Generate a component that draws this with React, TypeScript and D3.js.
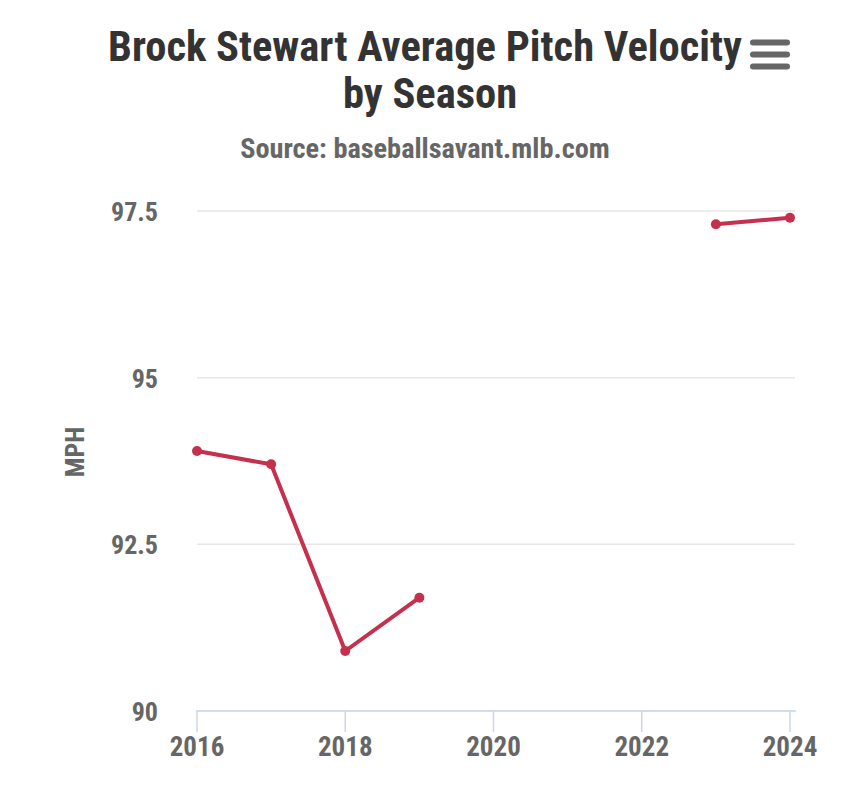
import React, { useEffect } from "react";
import * as d3 from "d3";

const seasons = [2016, 2017, 2018, 2019, 2020, 2021, 2022, 2023, 2024];
const velocity: (number | null)[] = [93.9, 93.7, 90.9, 91.7, null, null, null, 97.3, 97.4];
const yTicks = [90, 92.5, 95, 97.5];
const xTicks = [2016, 2018, 2020, 2022, 2024];
const titleLines = ["Brock Stewart Average Pitch Velocity", "by Season"];
const subtitle = "Source: baseballsavant.mlb.com";
const yAxisTitle = "MPH";

const W = 850;
const H = 791;
const FONT = '"Roboto Condensed", "Liberation Sans Narrow", "DejaVu Sans Condensed", Roboto, sans-serif';

export default function App() {
  useEffect(() => {
    document.body.style.margin = "0";
  }, []);

  const left = 197;
  const right = 790;
  const top = 211;
  const bottom = 711;

  const x = d3.scaleLinear().domain([2016, 2024]).range([left, right]);
  const y = d3.scaleLinear().domain([90, 97.5]).range([bottom, top]);

  const pts = seasons.map((s, i) => ({ s, v: velocity[i] }));
  const line = d3
    .line<{ s: number; v: number | null }>()
    .defined((d) => d.v != null)
    .x((d) => x(d.s))
    .y((d) => y(d.v as number));

  const color = "#c4304d";

  return (
    <svg width={W} height={H} style={{ display: "block", background: "#fff" }} fontFamily={FONT}>
      <rect width={W} height={H} fill="#fff" />
      {/* title */}
      <text x={425} y={61} textAnchor="middle" fontSize={42.5} fontWeight="bold" fill="#333">
        {titleLines[0]}
      </text>
      <text x={430} y={108} textAnchor="middle" fontSize={42.5} fontWeight="bold" fill="#333">
        {titleLines[1]}
      </text>
      <text x={425} y={158} textAnchor="middle" fontSize={28.3} fontWeight="bold" fill="#666">
        {subtitle}
      </text>
      {/* menu icon */}
      {[0, 1, 2].map((i) => (
        <line
          key={i}
          x1={753}
          x2={787}
          y1={42.5 + i * 12}
          y2={42.5 + i * 12}
          stroke="#666"
          strokeWidth={6}
          strokeLinecap="round"
        />
      ))}
      {/* gridlines */}
      {yTicks.map((t) => (
        <line key={t} x1={left} x2={795} y1={y(t)} y2={y(t)} stroke="#e6e6e6" strokeWidth={1.5} />
      ))}
      {/* y labels */}
      {yTicks.map((t) => (
        <text key={"yl" + t} x={158} y={y(t) + 10} textAnchor="end" fontSize={26} fontWeight="bold" fill="#666">
          {t}
        </text>
      ))}
      <text
        transform={`translate(84, 452) rotate(-90)`}
        textAnchor="middle"
        fontSize={26}
        fontWeight="bold"
        fill="#666"
      >
        {yAxisTitle}
      </text>
      {/* x axis */}
      <line x1={left - 1} x2={796} y1={bottom} y2={bottom} stroke="#ccd6eb" strokeWidth={1.5} />
      {xTicks.map((t) => (
        <g key={"xt" + t}>
          <line x1={x(t)} x2={x(t)} y1={bottom} y2={bottom + 21} stroke="#ccd6eb" strokeWidth={1.5} />
          <text x={x(t)} y={756} textAnchor="middle" fontSize={27} fontWeight="bold" fill="#666">
            {t}
          </text>
        </g>
      ))}
      {/* series */}
      <path d={line(pts) || ""} fill="none" stroke={color} strokeWidth={4} strokeLinejoin="round" strokeLinecap="round" />
      {pts
        .filter((d) => d.v != null)
        .map((d) => (
          <circle key={d.s} cx={x(d.s)} cy={y(d.v as number)} r={5} fill={color} />
        ))}
    </svg>
  );
}
